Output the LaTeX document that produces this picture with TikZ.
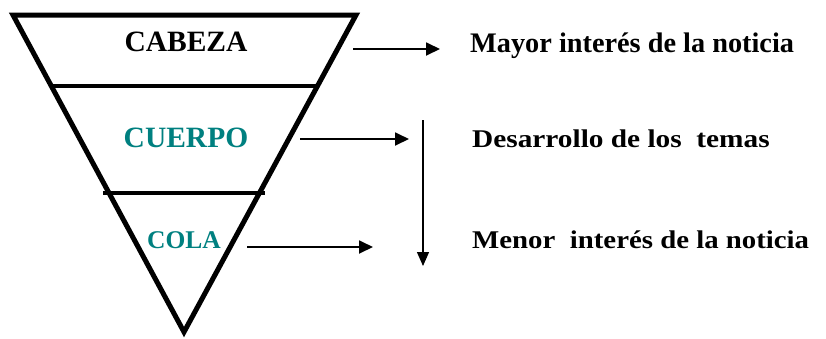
\documentclass[tikz,border=0pt]{standalone}
\usepackage{fontspec}
\setmainfont{Liberation Serif}
\usetikzlibrary{arrows.meta}
\definecolor{tealtxt}{RGB}{0,128,128}
\begin{document}
\begin{tikzpicture}[x=1pt,y=-1pt,
  funnel/.style={line width=5pt,line join=miter},
  divider/.style={line width=3.5pt},
  partlabel/.style={inner sep=0pt,anchor=base,font=\bfseries\fontsize{29.5}{30}\selectfont},
  toplabel/.style={inner sep=0pt,anchor=base west,font=\bfseries\fontsize{28.3}{30}\selectfont},
  sidelabel/.style={inner sep=0pt,anchor=base west,font=\bfseries\fontsize{25.5}{27}\selectfont},
  pointer/.style={line width=1.8pt,-{Triangle[length=14pt,width=13pt]}},
  flow/.style={line width=1.3pt,-{Triangle[length=14pt,width=12pt]}}]
\useasboundingbox (0,0) rectangle (826,338);
% funnel
\coordinate (tl) at (13,15);
\coordinate (tr) at (356,15);
\coordinate (ap) at (184,332);
\draw[funnel] (tl) -- (tr) -- (ap) -- cycle;
\coordinate (d1l) at (52,86);
\coordinate (d1r) at (316,86);
\coordinate (d2l) at (103,193);
\coordinate (d2r) at (265,193);
\draw[divider] (d1l) -- (d1r);
\draw[divider] (d2l) -- (d2r);
% part labels
\node[partlabel] (cabeza) at (186,51) {CABEZA};
\node[partlabel,text=tealtxt] (cuerpo) at (186,147) {CUERPO};
\node[partlabel,text=tealtxt,font=\bfseries\fontsize{25.5}{27}\selectfont] (cola) at (184,248) {COLA};
% side labels
\node[toplabel] (mayor) at (470,52) {Mayor interés de la noticia};
\node[sidelabel] (desarrollo) at (472,147) {\scalebox{1.15}[1]{Desarrollo de los\ \ temas}};
\node[sidelabel] (menor) at (472,248) {\scalebox{1.13}[1]{Menor\ \ interés de la noticia}};
% arrows
\coordinate (a1s) at (353,49);
\coordinate (a1e) at (440,49);
\coordinate (a2s) at (300,139);
\coordinate (a2e) at (409,139);
\coordinate (a3s) at (247,247);
\coordinate (a3e) at (373,247);
\coordinate (a4s) at (423,120);
\coordinate (a4e) at (423,266);
\draw[pointer] (a1s) -- (a1e);
\draw[pointer] (a2s) -- (a2e);
\draw[pointer] (a3s) -- (a3e);
\draw[flow] (a4s) -- (a4e);
\end{tikzpicture}
\end{document}
